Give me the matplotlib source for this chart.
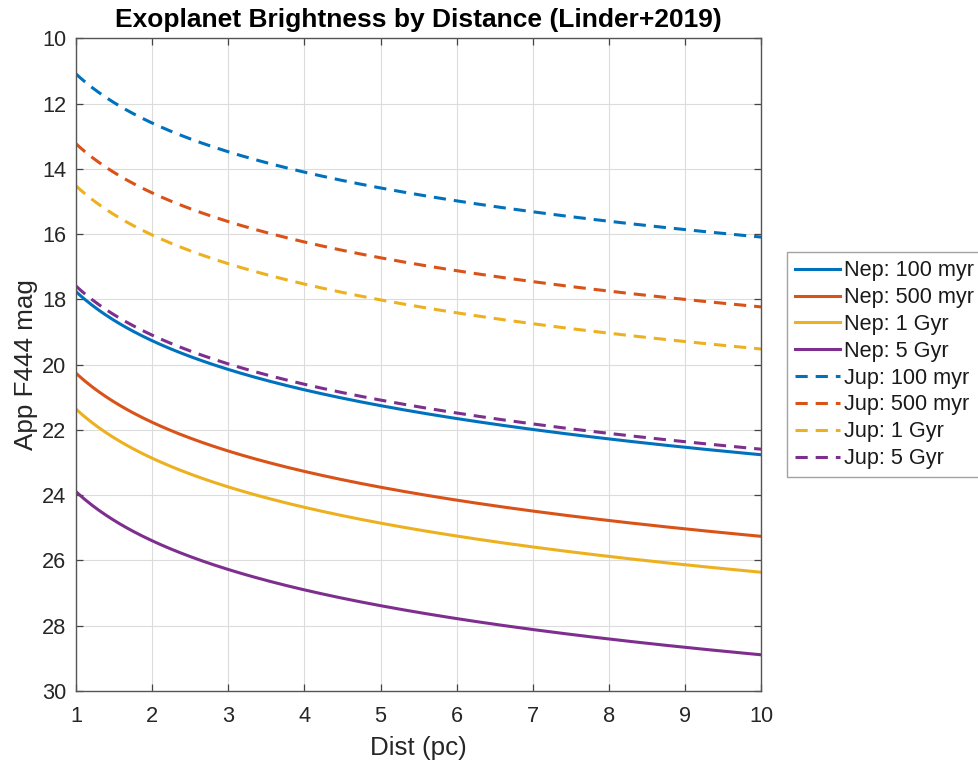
import numpy as np
import matplotlib
matplotlib.use("Agg")
import matplotlib.pyplot as plt

# F444W magnitudes at 10 pc for each planet type and age
ages = ["100 myr", "500 myr", "1 Gyr", "5 Gyr"]
nep_mag_10pc = [22.76, 25.26, 26.36, 28.89]
jup_mag_10pc = [16.09, 18.23, 19.52, 22.59]

# MATLAB default line colours
colors = ["#0072BD", "#D95319", "#EDB120", "#7E2F8E"]

dist_min, dist_max = 1, 10
dist = np.linspace(dist_min, dist_max, 300)


def apparent_mag(abs_mag, d):
    """Distance modulus: m = M + 5 log10(d / 10 pc)."""
    return abs_mag + 5 * np.log10(d / 10.0)


plt.rcParams["font.family"] = ["Liberation Sans", "DejaVu Sans"]

fig = plt.figure(figsize=(9.79, 7.65), dpi=100)
ax = fig.add_axes([0.0776, 0.0967, 0.7, 0.8532])

lw = 2.2
for mag, col, age in zip(nep_mag_10pc, colors, ages):
    ax.plot(dist, apparent_mag(mag, dist), color=col, lw=lw, label=f"Nep: {age}")
for mag, col, age in zip(jup_mag_10pc, colors, ages):
    ax.plot(dist, apparent_mag(mag, dist), color=col, lw=lw, ls=(0, (4.0, 2.6)),
            label=f"Jup: {age}")

ax.set_xlim(dist_min, dist_max)
ax.set_ylim(30, 10)
ax.set_xticks(range(1, 11))
ax.set_yticks(range(10, 31, 2))

ax.grid(True, color="#dcdcdc", lw=0.8)
ax.set_axisbelow(True)
for sp in ax.spines.values():
    sp.set_color("#555555")
    sp.set_linewidth(1.0)
ax.tick_params(direction="in", length=5, width=0.9, color="#444444",
               top=True, right=True, labelsize=15.7, labelcolor="#262626")
ax.tick_params(axis="x", pad=11)
ax.tick_params(axis="y", pad=7)

ax.set_title("Exoplanet Brightness by Distance (Linder+2019)", fontsize=19,
             fontweight="bold", pad=8)
ax.set_xlabel("Dist (pc)", fontsize=18.7, color="#262626", labelpad=6)
ax.set_ylabel("App F444 mag", fontsize=18.7, color="#262626", labelpad=3)

leg = ax.legend(loc="upper left", bbox_to_anchor=(787 / 979, 1 - 252 / 765),
                bbox_transform=fig.transFigure, fontsize=15.6, frameon=True,
                fancybox=False, edgecolor="#8c8c8c", handlelength=2.05,
                handletextpad=0.22, labelspacing=0.27, borderpad=0.38,
                borderaxespad=0)
leg.get_frame().set_linewidth(1.0)
for t in leg.get_texts():
    t.set_color("#1a1a1a")

fig.savefig("out.png", dpi=100)
